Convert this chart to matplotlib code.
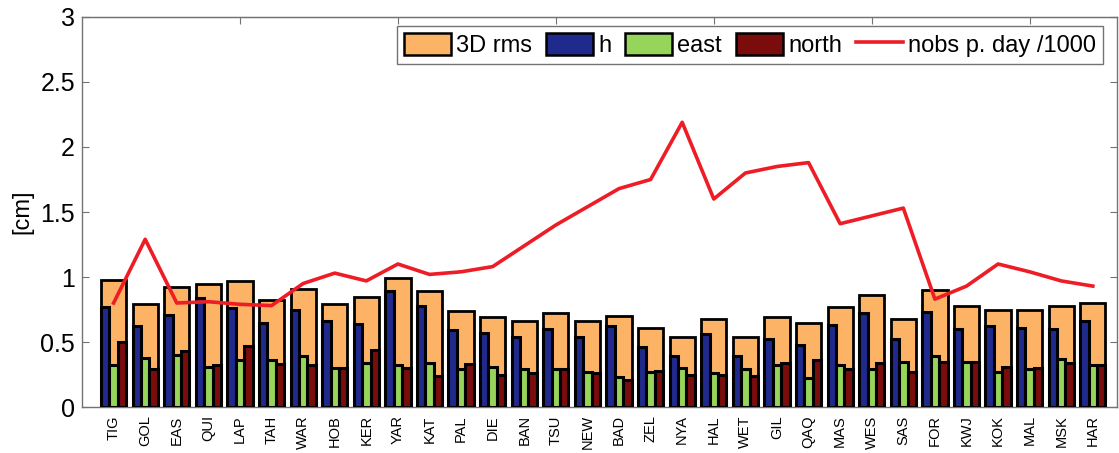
import numpy as np
import matplotlib.pyplot as plt
from matplotlib.patches import Patch
from matplotlib.lines import Line2D

plt.rcParams['font.family'] = ['Liberation Sans', 'DejaVu Sans']

# station data:
# ---------------------------------
stations = ['TIG', 'GOL', 'EAS', 'QUI', 'LAP', 'TAH', 'WAR', 'HOB', 'KER', 'YAR', 'KAT',
            'PAL', 'DIE', 'BAN', 'TSU', 'NEW', 'BAD', 'ZEL', 'NYA', 'HAL', 'WET', 'GIL',
            'QAQ', 'MAS', 'WES', 'SAS', 'FOR', 'KWJ', 'KOK', 'MAL', 'MSK', 'HAR']
rms3d = [0.98, 0.79, 0.92, 0.95, 0.97, 0.82, 0.91, 0.79, 0.85, 0.99, 0.89,
         0.74, 0.69, 0.66, 0.72, 0.66, 0.70, 0.61, 0.54, 0.68, 0.54, 0.69,
         0.65, 0.77, 0.86, 0.68, 0.90, 0.78, 0.75, 0.75, 0.78, 0.80]
h = [0.77, 0.62, 0.71, 0.84, 0.76, 0.65, 0.75, 0.66, 0.64, 0.89, 0.78,
     0.59, 0.57, 0.54, 0.60, 0.54, 0.62, 0.46, 0.39, 0.56, 0.39, 0.52,
     0.48, 0.63, 0.72, 0.52, 0.73, 0.60, 0.62, 0.61, 0.60, 0.66]
east = [0.32, 0.38, 0.40, 0.31, 0.36, 0.36, 0.39, 0.30, 0.34, 0.32, 0.34,
        0.29, 0.31, 0.29, 0.29, 0.27, 0.23, 0.27, 0.30, 0.26, 0.29, 0.32,
        0.22, 0.32, 0.29, 0.35, 0.39, 0.35, 0.27, 0.29, 0.37, 0.32]
north = [0.50, 0.29, 0.43, 0.32, 0.47, 0.33, 0.32, 0.30, 0.44, 0.30, 0.24,
         0.33, 0.25, 0.26, 0.29, 0.26, 0.21, 0.28, 0.25, 0.25, 0.24, 0.34,
         0.36, 0.29, 0.34, 0.27, 0.35, 0.35, 0.31, 0.30, 0.34, 0.32]
nobs = [0.80, 1.29, 0.80, 0.81, 0.79, 0.78, 0.95, 1.03, 0.97, 1.10, 1.02,
        1.04, 1.08, 1.24, 1.40, 1.54, 1.68, 1.75, 2.19, 1.60, 1.80, 1.85,
        1.88, 1.41, 1.47, 1.53, 0.83, 0.93, 1.10, 1.04, 0.97, 0.93]

# colours:
c_rms = '#fdb366'
c_h = '#1f2a8c'
c_east = '#96d45a'
c_north = '#7a0c0c'
c_line = '#ee1c25'

fig = plt.figure(figsize=(11.19, 4.53), dpi=100)
ax = fig.add_axes([0.0733, 0.1015, 0.9245, 0.861])

x = np.arange(1, len(stations) + 1)
ax.bar(x, rms3d, width=0.8, color=c_rms, edgecolor='k', linewidth=2.0, zorder=2)
w = 0.8 / 3
ax.bar(x - w, h, width=w, color=c_h, edgecolor='k', linewidth=2.2, zorder=3)
ax.bar(x, east, width=w, color=c_east, edgecolor='k', linewidth=2.2, zorder=3)
ax.bar(x + w, north, width=w, color=c_north, edgecolor='k', linewidth=2.2, zorder=3)
ax.plot(x, nobs, color=c_line, linewidth=2.6, zorder=5)

ax.set_xlim(0, 32.75)
ax.set_ylim(0, 3)
ax.set_yticks(np.arange(0, 3.01, 0.5))
ax.set_yticklabels(['0', '0.5', '1', '1.5', '2', '2.5', '3'])
ax.tick_params(axis='y', direction='in', length=5, color='0.45',
               right=True, labelsize=18, pad=5)
ax.set_xticks(x)
ax.set_xticklabels(stations, rotation=90, fontsize=10.5)
ax.tick_params(axis='x', length=0, pad=6)
ax.set_ylabel('[cm]', fontsize=17, labelpad=5)

# ticks along the top edge
top = ax.secondary_xaxis('top')
top.set_xticks(range(5, 31, 5))
top.set_xticklabels([])
top.tick_params(direction='in', length=5, color='0.45')
top.spines['top'].set_color('0.45')
for s in ax.spines.values():
    s.set_color('0.45')
    s.set_linewidth(1.0)

handles = [Patch(facecolor=c_rms, edgecolor='k', linewidth=1.8),
           Patch(facecolor=c_h, edgecolor='k', linewidth=1.8),
           Patch(facecolor=c_east, edgecolor='k', linewidth=1.8),
           Patch(facecolor=c_north, edgecolor='k', linewidth=1.8),
           Line2D([], [], color=c_line, linewidth=2.6)]
labels = ['3D rms', 'h', 'east', 'north', 'nobs p. day /1000']
leg = ax.legend(handles, labels, ncol=5, loc='upper right', bbox_to_anchor=(0.9915, 0.99),
                fontsize=17, handlelength=2.0, handleheight=1.1, handletextpad=0.2,
                columnspacing=0.6, borderpad=0.3, borderaxespad=0.2, fancybox=False,
                framealpha=1)
leg.get_frame().set_edgecolor('0.45')
leg.get_frame().set_linewidth(1.0)

fig.savefig('out.png', dpi=100)
